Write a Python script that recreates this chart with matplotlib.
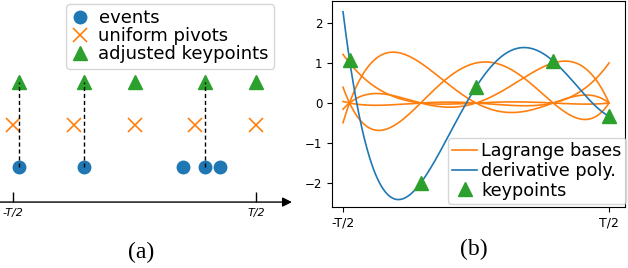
import matplotlib
matplotlib.use("Agg")
import matplotlib.pyplot as plt
import numpy as np

# panel (a): positions on [-T/2, T/2] with T = 1
events_x = [-0.4755, -0.208, 0.200, 0.290, 0.352]
pivots_x = [-0.5, -0.25, 0.0, 0.25, 0.5]
keypoints_x = [-0.4755, -0.208, 0.0, 0.290, 0.5]
snapped_x = [-0.4755, -0.208, 0.290]

# panel (b): keypoint values of the derivative polynomial
keypoints_y = [1.08, -2.0, 0.40, 1.05, -0.33]

tick_labels = ["-T/2", "T/2"]

blue, orange, green = "#1f77b4", "#ff7f0e", "#2ca02c"

fig = plt.figure(figsize=(6.28, 2.68), dpi=100)

# ---------------- (a) ----------------
ax = fig.add_axes([0, 0.246, 292 / 628, 0.754])
ax.plot(events_x, [0] * len(events_x), "o", color=blue, markersize=9, label="events")
ax.plot(pivots_x, [1] * len(pivots_x), "x", color=orange, markersize=10,
        markeredgewidth=1.2, label="uniform pivots")
ax.plot(keypoints_x, [2] * len(keypoints_x), "^", color=green, markersize=10,
        label="adjusted keypoints")
for x in snapped_x:
    ax.plot([x, x], [0, 2], "--", color="black", linewidth=1, dashes=(3, 2), zorder=5)

ax.set_xlim(-0.5535, 0.648)
ax.set_ylim(-0.82, 3.93)
for s in ["top", "left", "right", "bottom"]:
    ax.spines[s].set_visible(False)
ax.set_yticks([])
ax.set_xticks([-0.5, 0.5])
ax.set_xticklabels(tick_labels, fontsize=8, style="italic")
ax.tick_params(axis="x", direction="in", length=7, width=1, pad=4)
ax.annotate("", xy=(1, 0), xytext=(0, 0), xycoords="axes fraction",
            arrowprops=dict(arrowstyle="-|>", color="black", lw=1, mutation_scale=14,
                            shrinkA=0, shrinkB=0))
ax.legend(loc="upper left", bbox_to_anchor=(66 / 628, 1 - 4 / 268),
          bbox_transform=fig.transFigure, borderaxespad=0, fontsize=13,
          handlelength=1.0, handletextpad=0.5, labelspacing=0.0, borderpad=0.3)

# ---------------- (b) ----------------
bx = fig.add_axes([332 / 628, 0.2276, 293 / 628, 0.7687])
xs = np.linspace(-0.5, 0.5, 400)
nodes = np.array(keypoints_x)
bases = []
for i in range(len(nodes)):
    L = np.ones_like(xs)
    for j in range(len(nodes)):
        if j != i:
            L *= (xs - nodes[j]) / (nodes[i] - nodes[j])
    bases.append(L)
for i, L in enumerate(bases):
    bx.plot(xs, L, color=orange, linewidth=1.2,
            label="Lagrange bases" if i == 0 else None)
deriv = sum(y * L for y, L in zip(keypoints_y, bases))
bx.plot(xs, deriv, color=blue, linewidth=1.2, label="derivative poly.")
bx.plot(keypoints_x, keypoints_y, "^", color=green, markersize=10, linestyle="none",
        label="keypoints", zorder=4)

bx.set_xlim(-0.5414, 0.560)
bx.set_ylim(-2.6, 2.55)
bx.set_xticks([-0.5, 0.5])
bx.set_xticklabels(tick_labels, fontsize=9)
bx.set_yticks([-2, -1, 0, 1, 2])
bx.tick_params(axis="y", labelsize=8.5)
bx.legend(loc="lower right", bbox_to_anchor=(626 / 628, (268 - 204) / 268),
          bbox_transform=fig.transFigure, borderaxespad=0, fontsize=12.7,
          handlelength=1.4, handletextpad=0.25, labelspacing=0.1, borderpad=0.25)

fig.text(141 / 628, (268 - 252) / 268, "(a)", family="Liberation Serif", fontsize=17,
         ha="center", va="center")
fig.text(474 / 628, (268 - 249) / 268, "(b)", family="Liberation Serif", fontsize=17,
         ha="center", va="center")

fig.savefig("out.png", dpi=100)
